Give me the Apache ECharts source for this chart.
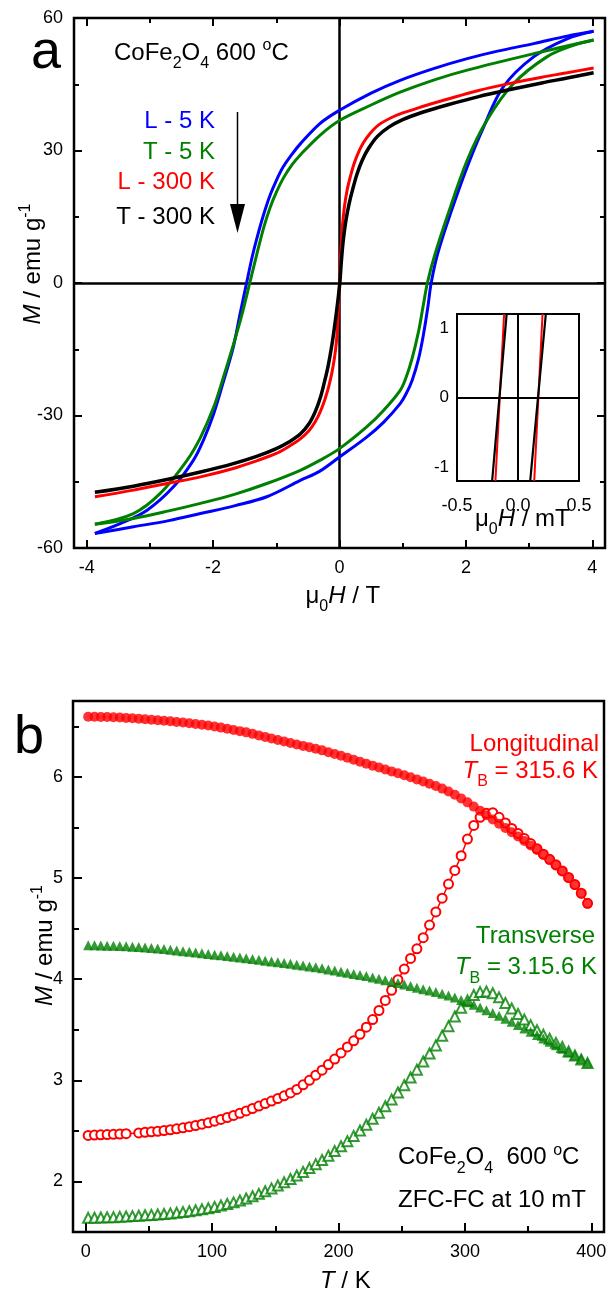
<!DOCTYPE html>
<html>
<head>
<meta charset="utf-8">
<script src="https://cdn.jsdelivr.net/npm/echarts@6/dist/echarts.min.js"></script>
<style>
  html, body { margin: 0; padding: 0; background: #fff; }
  #chart { width: 608px; height: 1293px; }
</style>
</head>
<body>
<div id="chart"></div>
<script>
// ---------- Panel a: M(H) hysteresis loops, field in T, M in emu/g ----------
// L - 5 K (blue), descending and ascending branches
const l5DescH = [4.02, 3.6, 3.07, 2.5, 2.02, 1.5, 0.96, 0.5, 0, -0.31, -0.62, -0.75, -0.89, -1.0, -1.1, -1.2, -1.3, -1.38, -1.47, -1.58, -1.68, -1.84, -1.99, -2.15, -2.31, -2.63, -3.05, -3.47, -3.87];
const l5DescM = [57.0, 55.9, 54.2, 52.5, 50.8, 48.6, 45.9, 43.0, 39.1, 36.1, 31.5, 29.2, 26.3, 23.2, 19.8, 15.5, 10.5, 6.0, 0, -7.5, -14.5, -22.5, -29.6, -35.5, -40.1, -46.2, -51.5, -54.5, -56.7];
const l5AscH = [-3.87, -3.26, -2.7, -2.2, -1.65, -1.15, -0.62, -0.31, 0, 0.43, 0.7, 0.96, 1.05, 1.15, 1.25, 1.33, 1.4, 1.45, 1.55, 1.75, 2.02, 2.28, 2.59, 3.07, 3.6, 4.02];
const l5AscM = [-56.7, -55.2, -53.8, -52.2, -50.4, -48.4, -44.7, -42.6, -39.4, -34.9, -31.5, -27.3, -25.2, -22.0, -17.2, -11.5, -5.2, 0, 6.5, 15.5, 26.3, 35.3, 44.4, 51.2, 55.3, 57.0];
// T - 5 K (green)
const t5DescH = [4.02, 3.07, 2.02, 1.5, 0.96, 0.5, 0, -0.305, -0.62, -0.75, -0.886, -1.0, -1.1, -1.2, -1.3, -1.36, -1.42, -1.55, -1.68, -1.84, -1.99, -2.2, -2.41, -2.84, -3.26, -3.87];
const t5DescM = [55.0, 51.9, 48.2, 46.0, 43.2, 40.3, 36.8, 33.5, 29.0, 26.8, 23.8, 20.5, 17.0, 12.5, 7.0, 3.5, 0, -7.5, -14.0, -21.5, -28.1, -35.0, -40.1, -47.7, -52.2, -54.6];
const t5AscH = [-3.87, -3.26, -2.7, -2.2, -1.65, -1.15, -0.62, -0.305, 0, 0.43, 0.7, 0.96, 1.05, 1.15, 1.25, 1.32, 1.39, 1.5, 1.7, 2.02, 2.33, 2.75, 3.28, 3.7, 4.02];
const t5AscM = [-54.6, -53.3, -51.6, -49.9, -47.8, -45.4, -42.4, -40.1, -37.5, -32.6, -28.8, -24.3, -21.5, -17.0, -11.0, -5.5, 0, 6.0, 14.9, 27.8, 36.8, 45.1, 51.2, 53.8, 55.0];
// L - 300 K (red) and T - 300 K (black): both branches coincide at this scale
const l300H = [-3.87, -3.26, -2.73, -2.2, -1.68, -1.3, -1.0, -0.8, -0.62, -0.48, -0.38, -0.3, -0.23, -0.17, -0.12, -0.08, -0.05, -0.03, -0.015, 0,
  0.015, 0.03, 0.05, 0.08, 0.12, 0.17, 0.23, 0.3, 0.38, 0.48, 0.62, 0.8, 1.0, 1.3, 1.7, 2.2, 2.7, 3.2, 3.6, 4.02];
const l300M = [-48.4, -46.9, -45.4, -43.9, -42.0, -40.2, -38.6, -37.0, -35.3, -33.4, -31.3, -29.0, -26.3, -23.4, -20.3, -17.0, -13.5, -9.5, -5.0, 0,
  5.0, 9.5, 13.5, 17.5, 21.0, 24.0, 27.0, 29.6, 31.8, 33.8, 35.8, 37.3, 38.5, 39.9, 41.6, 43.6, 45.2, 46.6, 47.6, 48.7];
const t300H = [-3.87, -3.26, -2.73, -2.2, -1.68, -1.3, -1.0, -0.8, -0.62, -0.48, -0.38, -0.3, -0.24, -0.18, -0.12, -0.07, -0.03, 0.005,
  0.03, 0.06, 0.1, 0.15, 0.21, 0.28, 0.36, 0.46, 0.6, 0.78, 1.0, 1.3, 1.7, 2.2, 2.7, 3.2, 3.6, 4.02];
const t300M = [-47.4, -46.0, -44.5, -42.8, -40.9, -39.2, -37.5, -36.0, -34.2, -31.8, -29.0, -25.8, -22.5, -18.8, -14.0, -9.0, -4.5, 0,
  5.0, 9.7, 14.0, 17.8, 21.3, 24.8, 27.8, 30.5, 33.2, 35.3, 37.0, 38.6, 40.3, 42.2, 43.8, 45.3, 46.4, 47.6];

// Inset: low-field detail of the 300 K loops, field in mT
const insetRedLeftH = [-0.185, -0.114];
const insetRedRightH = [0.133, 0.201];
const insetBlackLeftH = [-0.212, -0.093];
const insetBlackRightH = [0.100, 0.228];
const insetBranchM = [-1.2, 1.2];

// ---------- Panel b: ZFC / FC magnetisation vs temperature ----------
const tempK = [2, 7, 12, 17, 22, 27, 32, 37, 42, 47, 52, 57, 62, 67, 72, 77, 82, 87, 92, 97,
  102, 107, 112, 117, 122, 127, 132, 137, 142, 147, 152, 157, 162, 167, 172, 177, 182, 187, 192, 197,
  202, 207, 212, 217, 222, 227, 232, 237, 242, 247, 252, 257, 262, 267, 272, 277, 282, 287, 292, 297,
  302, 307, 312, 317, 322, 327, 332, 337, 342, 347, 352, 357, 362, 367, 372, 377, 382, 387, 392, 397];
const fcLong = [6.595, 6.594, 6.593, 6.591, 6.589, 6.586, 6.583, 6.579, 6.575, 6.570,
  6.565, 6.560, 6.555, 6.549, 6.543, 6.537, 6.530, 6.523, 6.515, 6.507,
  6.498, 6.487, 6.476, 6.464, 6.452, 6.440, 6.425, 6.410, 6.395, 6.380,
  6.365, 6.350, 6.334, 6.320, 6.306, 6.292, 6.278, 6.262, 6.244, 6.226,
  6.208, 6.189, 6.169, 6.150, 6.130, 6.111, 6.092, 6.073, 6.054, 6.035,
  6.016, 5.996, 5.975, 5.954, 5.932, 5.910, 5.884, 5.855, 5.823, 5.787,
  5.748, 5.706, 5.664, 5.621, 5.578, 5.536, 5.494, 5.452, 5.410, 5.366,
  5.322, 5.276, 5.229, 5.178, 5.124, 5.066, 5.002, 4.930, 4.845, 4.745];
const tempZfcLongK = [2, 7, 12, 17, 22, 27, 32, 42, 47, 52, 57, 62, 67, 72, 77, 82, 87, 92, 97,
  102, 107, 112, 117, 122, 127, 132, 137, 142, 147, 152, 157, 162, 167, 172, 177, 182, 187, 192, 197,
  202, 207, 212, 217, 222, 227, 232, 237, 242, 247, 252, 257, 262, 267, 272, 277, 282, 287, 292, 297,
  302, 307, 312, 317, 322, 327, 332, 337, 342, 347, 352, 357, 362, 367, 372, 377, 382, 387, 392, 397];
const zfcLong = [2.455, 2.458, 2.461, 2.463, 2.466, 2.469, 2.472, 2.480, 2.485,
  2.490, 2.496, 2.503, 2.511, 2.520, 2.530, 2.541, 2.553, 2.566, 2.580,
  2.596, 2.613, 2.632, 2.652, 2.674, 2.697, 2.721, 2.745, 2.770, 2.795,
  2.820, 2.846, 2.875, 2.910, 2.955, 3.000, 3.050, 3.100, 3.155, 3.210,
  3.270, 3.330, 3.390, 3.455, 3.525, 3.600, 3.690, 3.790, 3.890, 3.995,
  4.100, 4.205, 4.300, 4.410, 4.535, 4.665, 4.800, 4.940, 5.075, 5.220,
  5.385, 5.520, 5.600, 5.640, 5.645, 5.600, 5.545, 5.490, 5.440, 5.390,
  5.340, 5.290, 5.235, 5.185, 5.130, 5.070, 5.005, 4.935, 4.850, 4.750];
const fcTrans = [4.335, 4.334, 4.333, 4.331, 4.329, 4.327, 4.324, 4.321, 4.317, 4.313,
  4.308, 4.303, 4.297, 4.291, 4.284, 4.277, 4.270, 4.263, 4.256, 4.249,
  4.242, 4.235, 4.228, 4.221, 4.214, 4.207, 4.199, 4.191, 4.183, 4.175,
  4.167, 4.159, 4.151, 4.143, 4.135, 4.126, 4.117, 4.107, 4.096, 4.085,
  4.074, 4.063, 4.052, 4.041, 4.030, 4.017, 4.003, 3.989, 3.975, 3.961,
  3.946, 3.931, 3.916, 3.901, 3.887, 3.872, 3.856, 3.838, 3.818, 3.795,
  3.771, 3.746, 3.720, 3.693, 3.666, 3.638, 3.609, 3.578, 3.546, 3.513,
  3.480, 3.447, 3.414, 3.380, 3.346, 3.312, 3.278, 3.244, 3.210, 3.175];
const zfcTrans = [1.640, 1.641, 1.643, 1.645, 1.647, 1.650, 1.653, 1.657, 1.661, 1.665,
  1.669, 1.673, 1.678, 1.684, 1.690, 1.697, 1.705, 1.714, 1.724, 1.735,
  1.748, 1.762, 1.777, 1.793, 1.811, 1.831, 1.853, 1.877, 1.903, 1.931,
  1.960, 1.991, 2.024, 2.058, 2.094, 2.132, 2.171, 2.212, 2.255, 2.300,
  2.348, 2.398, 2.450, 2.504, 2.560, 2.619, 2.680, 2.744, 2.811, 2.880,
  2.952, 3.027, 3.105, 3.186, 3.265, 3.345, 3.440, 3.535, 3.630, 3.716,
  3.790, 3.843, 3.872, 3.878, 3.860, 3.820, 3.765, 3.710, 3.655, 3.600,
  3.545, 3.495, 3.450, 3.410, 3.370, 3.330, 3.285, 3.245, 3.205, 3.170];

// ---------- Tick values ----------
const aFieldMajor = [-4, -2, 0, 2, 4];
const aFieldMinor = [-3, -1, 1, 3];
const aMagMajor = [-60, -30, 0, 30, 60];
const aMagMinor = [-45, -15, 15, 45];
const insetFieldTicks = [-0.5, 0, 0.5];
const insetMagMajor = [-1, 0, 1];
const insetMagMinor = [-0.5, 0.5];
const bTempMajor = [0, 100, 200, 300, 400];
const bTempMinor = [50, 150, 250, 350];
const bMagMajor = [2, 3, 4, 5, 6];
const bMagMinor = [2.5, 3.5, 4.5, 5.5, 6.5];

// ---------- helpers ----------
const FONT = 'Liberation Sans, Arial, Helvetica, sans-serif';
const BLUE = '#0000ff', GREEN = '#008000', RED = '#ff0000', BLACK = '#000000';
const pairs = (xs, ys) => xs.map((x, i) => [x, ys[i]]);

function richFor(color, size) {
  size = size || 24;
  return {
    n:   { fontSize: size, fontFamily: FONT, fill: color },
    i:   { fontSize: size, fontFamily: FONT, fontStyle: 'italic', fill: color },
    sub: { fontSize: 16, fontFamily: FONT, fill: color, padding: [22, 0, 0, 0] },
    sup: { fontSize: 16, fontFamily: FONT, fill: color, padding: [0, 0, 14, 0] }
  };
}
function txt(x, y, text, color, align, opts) {
  opts = opts || {};
  const size = opts.size || 24;
  return {
    type: 'text', x: x, y: y, rotation: opts.rotation || 0, z: 100,
    style: {
      text: text, fill: color, fontSize: size, fontFamily: FONT,
      align: align, verticalAlign: 'middle', rich: richFor(color, size)
    }
  };
}

function valueAxis(gridIndex, min, max, position, cfg) {
  return {
    type: 'value', gridIndex: gridIndex, min: min, max: max, position: position,
    axisLine: { show: false, onZero: false },
    splitLine: { show: false },
    axisTick: {
      show: !!cfg.ticks, inside: true, length: cfg.len || 8,
      customValues: cfg.ticks || [], lineStyle: { color: BLACK, width: cfg.tickWidth || 2 }
    },
    axisLabel: {
      show: !!cfg.labels, customValues: cfg.labels || cfg.ticks || [],
      margin: cfg.margin || 10, color: BLACK, fontSize: cfg.fontSize || 18,
      fontFamily: FONT, formatter: cfg.formatter
    }
  };
}

const loopLine = (name, xs, ys, color, width) => ({
  name: name, type: 'line', xAxisIndex: 0, yAxisIndex: 0, data: pairs(xs, ys),
  showSymbol: false, symbol: 'none', smooth: 0.35, z: 3,
  lineStyle: { color: color, width: width }
});
const insetLine = (xs, color, width) => ({
  type: 'line', xAxisIndex: 4, yAxisIndex: 4, data: pairs(xs, insetBranchM),
  showSymbol: false, symbol: 'none', z: 6, lineStyle: { color: color, width: width }
});
const zeroLines = (width) => ({
  silent: true, symbol: ['none', 'none'], z: 1, label: { show: false },
  lineStyle: { color: BLACK, width: width, type: 'solid' },
  emphasis: { disabled: true },
  data: [{ yAxis: 0 }, { xAxis: 0 }]
});

const chart = echarts.init(document.getElementById('chart'), null, { renderer: 'canvas', width: 608, height: 1293 });

const option = {
  animation: false,
  backgroundColor: '#ffffff',
  grid: [
    { left: 74, top: 18, width: 531, height: 530, show: true, borderColor: BLACK, borderWidth: 2.5, backgroundColor: 'transparent', outerBoundsMode: 'none' },
    { left: 457, top: 314, width: 122, height: 167, show: true, borderColor: BLACK, borderWidth: 2, backgroundColor: '#ffffff', z: 4, outerBoundsMode: 'none' },
    { left: 73, top: 701, width: 531, height: 531, show: true, borderColor: BLACK, borderWidth: 2.5, backgroundColor: 'transparent', outerBoundsMode: 'none' }
  ],
  xAxis: [
    valueAxis(0, -4.2, 4.2, 'bottom', { ticks: aFieldMajor, labels: aFieldMajor, len: 8, margin: 11 }),
    valueAxis(0, -4.2, 4.2, 'bottom', { ticks: aFieldMinor, len: 5 }),
    valueAxis(0, -4.2, 4.2, 'top', { ticks: aFieldMajor, len: 8 }),
    valueAxis(0, -4.2, 4.2, 'top', { ticks: aFieldMinor, len: 5 }),
    valueAxis(1, -0.5, 0.5, 'bottom', { labels: insetFieldTicks, margin: 16, fontSize: 18, formatter: v => Number(v).toFixed(1) }),
    valueAxis(2, -10, 410, 'bottom', { ticks: bTempMajor, labels: bTempMajor, len: 9, margin: 11 }),
    valueAxis(2, -10, 410, 'bottom', { ticks: bTempMinor, len: 6 })
  ],
  yAxis: [
    valueAxis(0, -60, 60, 'left', { ticks: aMagMajor, labels: aMagMajor, len: 8, margin: 11 }),
    valueAxis(0, -60, 60, 'left', { ticks: aMagMinor, len: 5 }),
    valueAxis(0, -60, 60, 'right', { ticks: aMagMajor, len: 8 }),
    valueAxis(0, -60, 60, 'right', { ticks: aMagMinor, len: 5 }),
    valueAxis(1, -1.2, 1.2, 'left', { ticks: insetMagMajor, labels: insetMagMajor, len: 6, margin: 8, fontSize: 17 }),
    valueAxis(1, -1.2, 1.2, 'left', { ticks: insetMagMinor, len: 4 }),
    valueAxis(2, 1.5, 6.75, 'left', { ticks: bMagMajor, labels: bMagMajor, len: 9, margin: 10 }),
    valueAxis(2, 1.5, 6.75, 'left', { ticks: bMagMinor, len: 6 })
  ],
  series: [
    // panel a: loops
    Object.assign(loopLine('L - 5 K desc', l5DescH, l5DescM, BLUE, 3), { markLine: zeroLines(2.5) }),
    loopLine('L - 5 K asc', l5AscH, l5AscM, BLUE, 3),
    loopLine('T - 5 K desc', t5DescH, t5DescM, GREEN, 3),
    loopLine('T - 5 K asc', t5AscH, t5AscM, GREEN, 3),
    loopLine('L - 300 K', l300H, l300M, RED, 3),
    loopLine('T - 300 K', t300H, t300M, BLACK, 3.5),
    // inset
    Object.assign(insetLine(insetRedLeftH, RED, 2), { markLine: Object.assign(zeroLines(2), { z: 5 }) }),
    insetLine(insetRedRightH, RED, 2),
    insetLine(insetBlackLeftH, BLACK, 2.2),
    insetLine(insetBlackRightH, BLACK, 2.2),
    // panel b
    {
      name: 'ZFC longitudinal', type: 'line', xAxisIndex: 5, yAxisIndex: 6,
      data: pairs(tempZfcLongK, zfcLong), symbol: 'emptyCircle', symbolSize: 9, showSymbol: true,
      lineStyle: { color: RED, width: 1.5 }, itemStyle: { color: RED, borderColor: RED, borderWidth: 1 }, z: 3
    },
    {
      name: 'ZFC transverse', type: 'scatter', xAxisIndex: 5, yAxisIndex: 6,
      data: pairs(tempK, zfcTrans), symbol: 'emptyTriangle', symbolSize: 10,
      itemStyle: { color: GREEN, borderColor: GREEN, borderWidth: 1 }, z: 3
    },
    {
      name: 'FC transverse', type: 'scatter', xAxisIndex: 5, yAxisIndex: 6,
      data: pairs(tempK, fcTrans), symbol: 'triangle', symbolSize: 10,
      itemStyle: { color: GREEN }, z: 4
    },
    {
      name: 'FC longitudinal', type: 'scatter', xAxisIndex: 5, yAxisIndex: 6,
      data: pairs(tempK, fcLong), symbol: 'circle', symbolSize: 10,
      itemStyle: { color: RED }, z: 4
    }
  ],
  graphic: [
    // panel a
    { type: 'text', x: 31, y: 53, z: 100, style: { text: 'a', fill: BLACK, fontSize: 54, fontFamily: FONT, align: 'left', verticalAlign: 'middle' } },
    txt(114, 53, '{n|CoFe}{sub|2}{n|O}{sub|4}{n| 600 }{sup|o}{n|C}', BLACK, 'left'),
    txt(215, 121, '{n|L - 5 K}', BLUE, 'right'),
    txt(215, 152, '{n|T - 5 K}', GREEN, 'right'),
    txt(215, 182, '{n|L - 300 K}', RED, 'right'),
    txt(215, 217.5, '{n|T - 300 K}', BLACK, 'right'),
    { type: 'line', z: 100, shape: { x1: 237.5, y1: 112, x2: 237.5, y2: 210 }, style: { stroke: BLACK, lineWidth: 1.5 } },
    { type: 'polygon', z: 100, shape: { points: [[230, 204], [245, 204], [237.5, 233]] }, style: { fill: BLACK } },
    txt(33, 264, '{i|M}{n| / emu g}{sup|-1}', BLACK, 'center', { rotation: Math.PI / 2 }),
    txt(305.5, 596, '{n|μ}{sub|0}{i|H}{n| / T}', BLACK, 'left'),
    txt(475, 519, '{n|μ}{sub|0}{i|H}{n| / mT}', BLACK, 'left'),
    // panel b
    { type: 'text', x: 14, y: 738, z: 100, style: { text: 'b', fill: BLACK, fontSize: 54, fontFamily: FONT, align: 'left', verticalAlign: 'middle' } },
    txt(599, 744.5, '{n|Longitudinal}', RED, 'right'),
    txt(598, 771, '{i|T}{sub|B}{n| = 315.6 K}', RED, 'right'),
    txt(595, 936, '{n|Transverse}', GREEN, 'right'),
    txt(597, 967.5, '{i|T}{sub|B}{n| = 3.15.6 K}', GREEN, 'right'),
    txt(398, 1157.5, '{n|CoFe}{sub|2}{n|O}{sub|4}{n|  600 }{sup|o}{n|C}', BLACK, 'left'),
    txt(398, 1200.5, '{n|ZFC-FC at 10 mT}', BLACK, 'left'),
    txt(45, 945.5, '{i|M}{n| / emu g}{sup|-1}', BLACK, 'center', { rotation: Math.PI / 2 }),
    txt(320, 1281, '{i|T}{n| / K}', BLACK, 'left')
  ]
};

chart.setOption(option);
</script>
</body>
</html>
